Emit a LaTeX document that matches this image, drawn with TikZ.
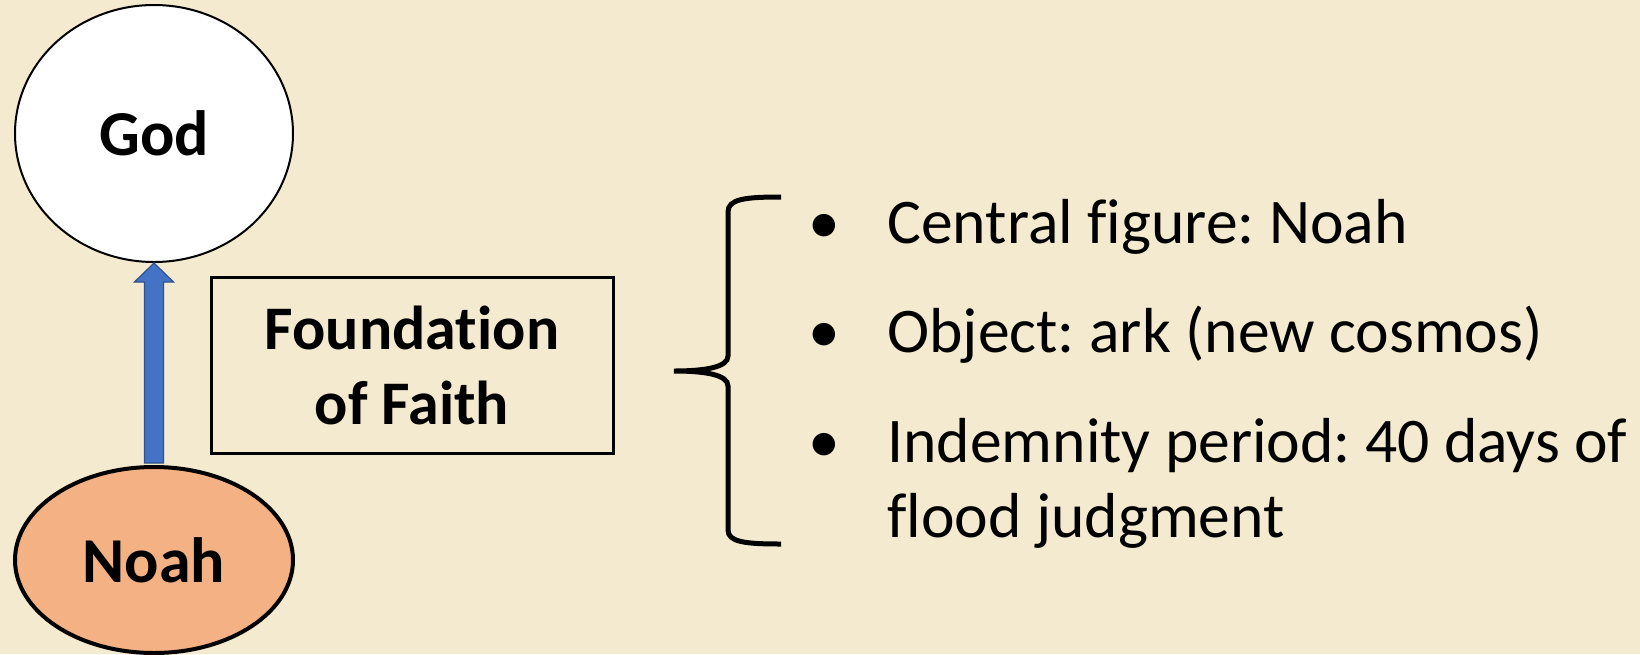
\documentclass[tikz,border=0pt]{standalone}
\usepackage{fontspec}
\setmainfont{Carlito}[Ligatures={NoCommon,NoDiscretionary,NoContextual}]
\usetikzlibrary{shapes.geometric,calc}
\definecolor{bgcream}{HTML}{F4EAD0}
\definecolor{noahfill}{HTML}{F4B183}
\definecolor{arrowblue}{HTML}{4472C4}
\definecolor{arrowedge}{HTML}{2F528F}
\frenchspacing
\begin{document}
\begin{tikzpicture}[x=0.5pt,y=-0.5pt,
  oval/.style={ellipse, draw=black, inner sep=0pt, minimum width=139pt,
    font=\fontsize{32}{37.5}\selectfont\bfseries},
  titlebox/.style={rectangle, draw=black, line width=1.5pt, inner sep=0pt,
    minimum width=201pt, minimum height=88pt, align=center,
    font=\fontsize{31}{37.5}\selectfont\bfseries},
  itemtext/.style={anchor=base west, inner sep=0pt, font=\fontsize{31.8}{37.5}\selectfont},
  bulletmark/.style={anchor=base, inner sep=0pt, font=\fontsize{31.8}{37.5}\selectfont},
  bracepath/.style={line width=2.5pt, draw=black},
  arrowbody/.style={fill=arrowblue, draw=arrowedge, line width=0.6pt, line join=miter}
]
\useasboundingbox (0,0) rectangle (1640,654);
\fill[bgcream] (0,0) rectangle (1640,654);

% ellipses
\node[oval, fill=white, line width=1pt, minimum height=128.5pt] (god) at (154,133.5) {God};
\node[oval, fill=noahfill, line width=2pt, minimum height=93pt] (noah) at (154,560) {Noah};

% arrow from Noah to God
\draw[arrowbody] let \p1=(noah.north), \p2=(god.south) in
  (\x1-4.75pt,\y1+1pt) -- (\x1-4.75pt,\y2-9.5pt) -- (\x1-9.75pt,\y2-9.5pt) --
  (\x2,\y2) -- (\x1+9.75pt,\y2-9.5pt) -- (\x1+4.75pt,\y2-9.5pt) --
  (\x1+4.75pt,\y1+1pt) -- cycle;

% box
\node[titlebox] (found) at (412,365) {Foundation\\of Faith};

% brace
\coordinate (btop) at (781,197);
\coordinate (bmid) at (674,371);
\coordinate (bbot) at (781,544);
\draw[bracepath] (btop) .. controls (745,197) and (728,199) .. (728,212)
  -- (728,356) .. controls (728,367) and (706,371) .. (bmid)
  .. controls (706,371) and (728,375) .. (728,386)
  -- (728,530) .. controls (728,542) and (745,544) .. (bbot);

% bullets and items
\node[bulletmark] (b1) at (824,243) {•};
\node[bulletmark] (b2) at (824,352.5) {•};
\node[bulletmark] (b3) at (824,462) {•};
\node[itemtext] (t1) at (887,243) {Central figure: Noah};
\node[itemtext] (t2) at (887,352.5) {Object: ark (new cosmos)};
\node[itemtext] (t3) at (887,462) {Indemnity period: 40 days of};
\node[itemtext] (t3b) at (887,537) {flood judgment};
\end{tikzpicture}
\end{document}
